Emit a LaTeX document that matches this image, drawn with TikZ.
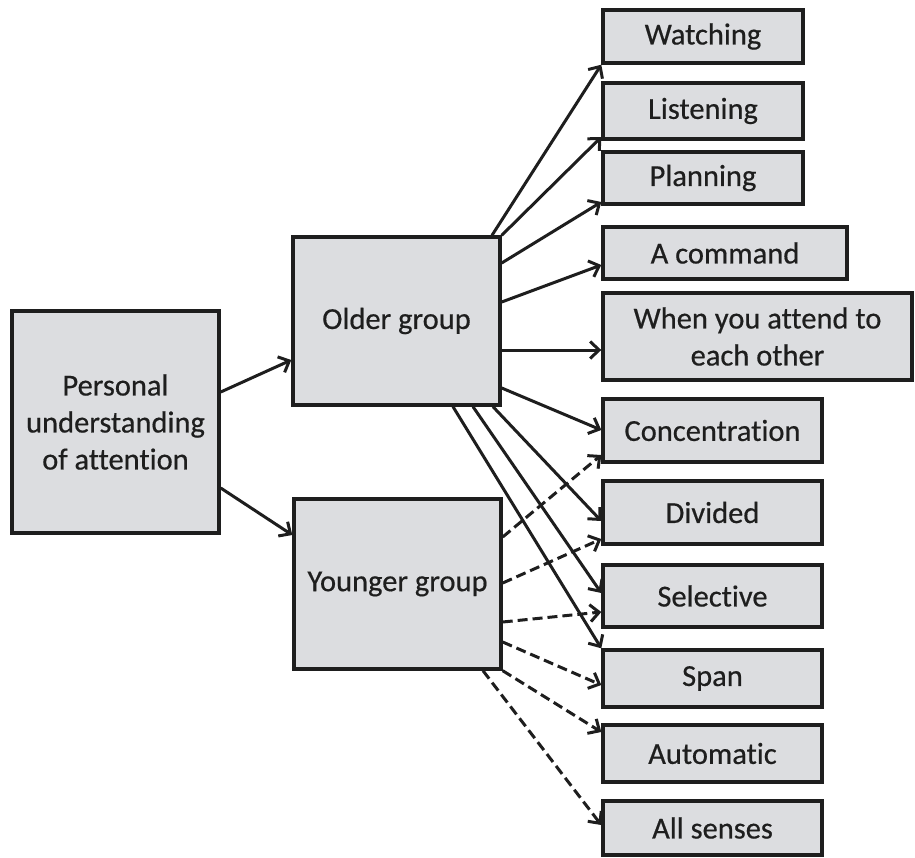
\documentclass[tikz,border=0pt]{standalone}
\usepackage{fontspec}
\setmainfont[Ligatures={NoCommon,NoContextual},FakeBold=0.5]{Carlito}
\usetikzlibrary{arrows.meta}
\definecolor{boxgray}{HTML}{DCDDE0}
\definecolor{ink}{HTML}{1E1E1E}
\begin{document}
\begin{tikzpicture}[x=1pt,y=-1pt,
  box/.style={draw=ink, fill=boxgray, line width=3.4pt, inner sep=0pt, align=center,
    text=ink, font=\fontsize{30.5}{37}\selectfont},
  arr/.style={draw=ink, line width=3pt, -{Straight Barb[length=9pt,width=17pt,line width=3pt]}},
  darr/.style={arr, dash pattern=on 10pt off 5pt}]
\useasboundingbox (0,0) rectangle (915,857);
\node[box, minimum width=207pt, minimum height=222pt] (personal) at (115.5,422) {Personal\\understanding\\of attention};
\node[box, minimum width=207pt, minimum height=168pt] (older) at (396.5,321) {Older group};
\node[box, minimum width=207pt, minimum height=170pt] (younger) at (397.5,584) {Younger group};
\node[box, minimum width=200pt, minimum height=53pt] (watching) at (703,36.5) {Watching};
\node[box, minimum width=200pt, minimum height=56pt] (listening) at (703,111) {Listening};
\node[box, minimum width=200pt, minimum height=52pt] (planning) at (703,178) {Planning};
\node[box, minimum width=244pt, minimum height=52pt] (command) at (725,253) {A command};
\node[box, minimum width=309pt, minimum height=87pt] (when) at (757.5,336.5) {When you attend to\\each other};
\node[box, minimum width=219pt, minimum height=63pt] (conc) at (712.5,430.5) {Concentration};
\node[box, minimum width=219pt, minimum height=63pt] (divided) at (712.5,512.5) {Divided};
\node[box, minimum width=219pt, minimum height=62pt] (selective) at (712.5,596) {Selective};
\node[box, minimum width=219pt, minimum height=57pt] (span) at (712.5,678.5) {Span};
\node[box, minimum width=219pt, minimum height=57pt] (automatic) at (712.5,753.5) {Automatic};
\node[box, minimum width=219pt, minimum height=54pt] (allsenses) at (712.5,828) {All senses};
% personal
\draw[arr] (personal.east |- 0,392) -- (older.west |- 0,360);
\draw[arr] (personal.east |- 0,488) -- (younger.west |- 0,535);
% older
\draw[arr] (492,0 |- older.north) -- (watching.south west);
\draw[arr] (older.north east) -- (listening.west |- 0,137);
\draw[arr] (older.east |- 0,263) -- (planning.west |- 0,202);
\draw[arr] (older.east |- 0,302) -- (command.west |- 0,265);
\draw[arr] (older.east |- 0,350) -- (when.west |- 0,350);
\draw[arr] (older.east |- 0,388) -- (conc.west |- 0,430);
\draw[arr] (493,0 |- older.south) -- (divided.west |- 0,521);
\draw[arr] (473,0 |- older.south) -- (selective.west |- 0,593);
\draw[arr] (453,0 |- older.south) -- (span.north west);
% younger
\draw[darr] (younger.east |- 0,537) -- (conc.west |- 0,455);
\draw[darr] (younger.east |- 0,583) -- (divided.west |- 0,539);
\draw[darr] (younger.east |- 0,622) -- (selective.west |- 0,612);
\draw[darr] (younger.east |- 0,642) -- (span.west |- 0,685);
\draw[darr] (younger.south east) -- (automatic.west |- 0,732);
\draw[darr] (483,0 |- younger.south) -- (allsenses.west |- 0,825);
\end{tikzpicture}
\end{document}
